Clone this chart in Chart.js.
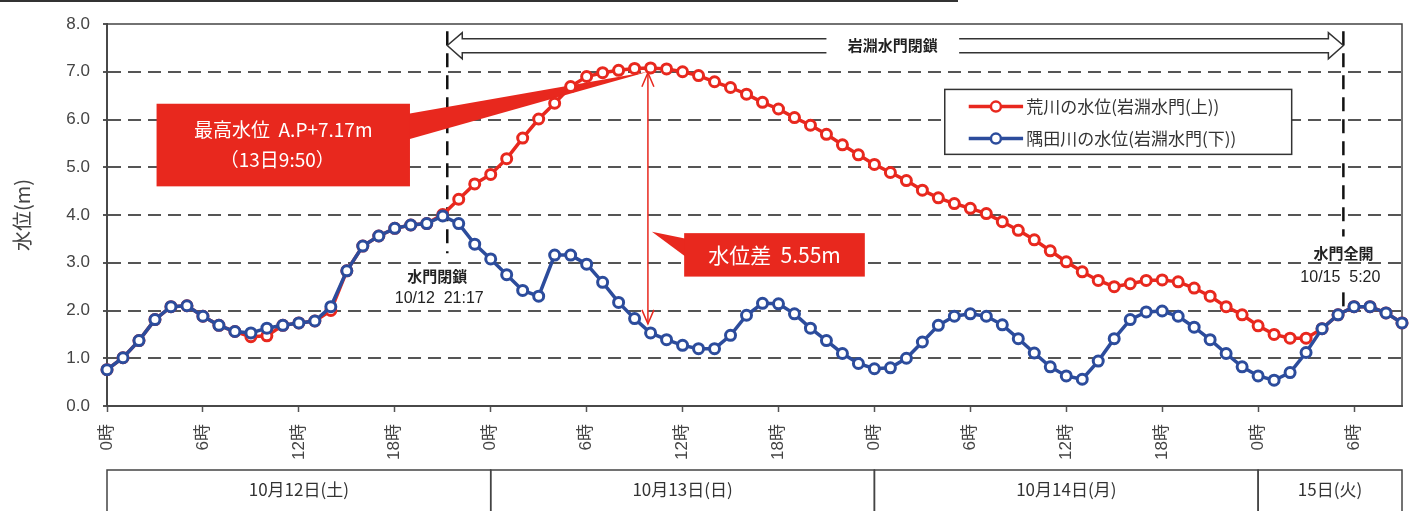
<!DOCTYPE html>
<html lang="ja">
<head>
<meta charset="UTF-8">
<title>岩淵水門 水位</title>
<script src="https://cdn.jsdelivr.net/npm/chart.js"></script>
<style>
  html, body { margin: 0; padding: 0; background: #fff; }
  #wrap { position: relative; width: 1419px; height: 511px; }
</style>
</head>
<body>
<div id="wrap"><canvas id="levelChart"></canvas></div>
<script>
// hourly categories, 10/12 0時 .. 10/15 9時
const hourLabels = Array.from({ length: 82 }, (_, h) => (h % 24) + '時');

// 荒川の水位(岩淵水門(上))
const arakawa = [
  0.76, 1.01, 1.37, 1.81, 2.08, 2.10, 1.88, 1.69, 1.56, 1.45,
  1.47, 1.69, 1.74, 1.78, 2.00, 2.83, 3.35, 3.56, 3.72, 3.79,
  3.82, 4.01, 4.33, 4.65, 4.85, 5.18, 5.61, 6.01, 6.34, 6.69,
  6.90, 6.98, 7.03, 7.07, 7.08, 7.06, 7.00, 6.92, 6.79, 6.67,
  6.53, 6.36, 6.22, 6.04, 5.88, 5.69, 5.47, 5.26, 5.06, 4.89,
  4.72, 4.52, 4.36, 4.24, 4.14, 4.03, 3.86, 3.68, 3.48, 3.25,
  3.02, 2.81, 2.63, 2.50, 2.56, 2.63, 2.64, 2.60, 2.47, 2.30,
  2.08, 1.91, 1.68, 1.50, 1.42, 1.42, 1.62, 1.91, 2.08, 2.08,
  1.95, 1.74
];

// 隅田川の水位(岩淵水門(下))
const sumida = [
  0.76, 1.01, 1.37, 1.81, 2.08, 2.10, 1.88, 1.69, 1.56, 1.53,
  1.63, 1.69, 1.74, 1.78, 2.08, 2.83, 3.35, 3.56, 3.72, 3.79,
  3.82, 3.98, 3.82, 3.39, 3.08, 2.75, 2.42, 2.30, 3.16, 3.16,
  2.97, 2.59, 2.17, 1.83, 1.53, 1.39, 1.27, 1.20, 1.20, 1.48,
  1.90, 2.15, 2.14, 1.93, 1.63, 1.37, 1.10, 0.89, 0.78, 0.80,
  1.00, 1.34, 1.69, 1.88, 1.93, 1.88, 1.70, 1.41, 1.11, 0.82,
  0.63, 0.56, 0.94, 1.41, 1.81, 1.97, 1.99, 1.88, 1.65, 1.39,
  1.10, 0.82, 0.63, 0.54, 0.70, 1.12, 1.62, 1.91, 2.08, 2.08,
  1.95, 1.74
];

const dayLabels = ['10月12日(土)', '10月13日(日)', '10月14日(月)', '15日(火)'];
const dayStarts = [0, 24, 48, 72, 81];

const gateClose = 21 + 17 / 60;   // 10/12 21:17
const gateOpen = 72 + 5 + 20 / 60; // 10/15 5:20
const peakHour = 24 + 9 + 50 / 60; // 13日9:50

const RED = '#e8281e';
const BLUE = '#2c4c9c';
const GRID = '#555';
const FONT = "'Liberation Sans', 'Noto Sans CJK JP', sans-serif";
const JP = "'Noto Sans CJK JP', sans-serif";

function strokeLine(ctx, x1, y1, x2, y2) {
    ctx.beginPath();
    ctx.moveTo(x1, y1);
    ctx.lineTo(x2, y2);
    ctx.stroke();
}

// boxes, arrows, labels drawn under the series
const annotations = {
    id: 'annotations',
    beforeDatasetsDraw(chart) {
        const { ctx, chartArea: a, scales: { x, y } } = chart;
        const px = h => x.getPixelForValue(h);
        const py = v => y.getPixelForValue(v);
        ctx.save();

        // plot frame
        ctx.strokeStyle = '#444';
        ctx.lineWidth = 1.5;
        ctx.strokeRect(a.left, a.top, a.right - a.left, a.bottom - a.top);

        // gate close / open lines
        ctx.strokeStyle = '#111';
        ctx.lineWidth = 2.5;
        ctx.setLineDash([14, 8]);
        strokeLine(ctx, px(gateClose), py(7.85), px(gateClose), py(3.2));
        strokeLine(ctx, px(gateOpen), py(7.85), px(gateOpen), py(3.55));
        strokeLine(ctx, px(gateOpen), py(2.38), px(gateOpen), py(2.0));
        ctx.setLineDash([]);

        // closed-period double arrow
        const yA = py(7.69), yB = py(7.40), yTop = py(7.82), yBot = py(7.27), yMid = py(7.55);
        const l0 = px(gateClose), r0 = px(gateOpen);
        ctx.strokeStyle = '#333';
        ctx.lineWidth = 1.5;
        ctx.beginPath();
        ctx.moveTo(px(45), yA); ctx.lineTo(l0 + 15, yA); ctx.lineTo(l0 + 15, yTop);
        ctx.lineTo(l0, yMid); ctx.lineTo(l0 + 15, yBot); ctx.lineTo(l0 + 15, yB); ctx.lineTo(px(45), yB);
        ctx.stroke();
        ctx.beginPath();
        ctx.moveTo(px(53.3), yA); ctx.lineTo(r0 - 15, yA); ctx.lineTo(r0 - 15, yTop);
        ctx.lineTo(r0, yMid); ctx.lineTo(r0 - 15, yBot); ctx.lineTo(r0 - 15, yB); ctx.lineTo(px(53.3), yB);
        ctx.stroke();
        ctx.fillStyle = '#222';
        ctx.font = 'bold 15px ' + JP;
        ctx.textAlign = 'center';
        ctx.textBaseline = 'middle';
        ctx.fillText('岩淵水門閉鎖', (px(45) + px(53.3)) / 2, yMid);

        // gate labels
        ctx.font = 'bold 15px ' + JP;
        ctx.fillText('水門閉鎖', px(gateClose) - 10, py(2.72));
        ctx.fillText('水門全開', px(gateOpen), py(3.2));
        ctx.font = '16px ' + FONT;
        ctx.fillText('10/12  21:17', px(gateClose) - 8, py(2.24));
        ctx.fillText('10/15  5:20', px(gateOpen) - 3, py(2.69));

        // peak callout
        ctx.fillStyle = RED;
        ctx.beginPath();
        ctx.moveTo(px(18.5), py(6.1));
        ctx.lineTo(px(peakHour), py(7.0));
        ctx.lineTo(px(18.5), py(5.55));
        ctx.closePath();
        ctx.fill();
        ctx.fillRect(px(3.1), py(6.33), px(18.95) - px(3.1), py(4.6) - py(6.33));
        ctx.fillStyle = '#fff';
        ctx.font = '19px ' + JP;
        ctx.fillText('最高水位  A.P+7.17m', (px(3.1) + px(18.95)) / 2, py(5.78));
        ctx.fillText('（13日9:50）', (px(3.1) + px(18.95)) / 2 - 6, py(5.15));

        // level difference arrow
        const xa = px(peakHour), ya1 = py(6.98), ya2 = py(1.72);
        ctx.strokeStyle = RED;
        ctx.lineWidth = 1.5;
        strokeLine(ctx, xa, ya1, xa, ya2);
        ctx.beginPath();
        ctx.moveTo(xa - 6, ya1 + 14); ctx.lineTo(xa, ya1); ctx.lineTo(xa + 6, ya1 + 14);
        ctx.moveTo(xa - 6, ya2 - 14); ctx.lineTo(xa, ya2); ctx.lineTo(xa + 6, ya2 - 14);
        ctx.stroke();

        // level difference callout
        ctx.fillStyle = RED;
        ctx.beginPath();
        ctx.moveTo(xa + 4, py(3.65));
        ctx.lineTo(px(36.3), py(3.5));
        ctx.lineTo(px(36.3), py(3.1));
        ctx.closePath();
        ctx.fill();
        ctx.fillRect(px(36.1), py(3.62), px(47.4) - px(36.1), py(2.71) - py(3.62));
        ctx.fillStyle = '#fff';
        ctx.font = '21px ' + JP;
        ctx.fillText('水位差  5.55m', (px(36.1) + px(47.4)) / 2, py(3.16));

        // legend
        const lx = px(52.4), lt = py(6.63), lr = px(74.1), lb = py(5.27);
        ctx.fillStyle = '#fff';
        ctx.fillRect(lx, lt, lr - lx, lb - lt);
        ctx.strokeStyle = '#333';
        ctx.lineWidth = 1.5;
        ctx.strokeRect(lx, lt, lr - lx, lb - lt);
        const entries = [
            [RED, '荒川の水位(岩淵水門(上))', py(6.27)],
            [BLUE, '隅田川の水位(岩淵水門(下))', py(5.6)]
        ];
        ctx.textAlign = 'left';
        ctx.font = '17px ' + JP;
        entries.forEach(([c, label, ey]) => {
            ctx.strokeStyle = c;
            ctx.lineWidth = 3.5;
            strokeLine(ctx, px(53.9), ey, px(57.3), ey);
            ctx.beginPath();
            ctx.arc(px(55.6), ey, 5, 0, Math.PI * 2);
            ctx.fillStyle = '#fff';
            ctx.fill();
            ctx.lineWidth = 2.5;
            ctx.stroke();
            ctx.fillStyle = '#333';
            ctx.fillText(label, px(57.5), ey);
        });
        ctx.restore();
    },
    afterDraw(chart) {
        const { ctx, chartArea: a, scales: { x } } = chart;
        ctx.save();
        // date row under the hour ticks
        const top = a.bottom + 64, bottom = top + 50;
        ctx.strokeStyle = '#444';
        ctx.lineWidth = 1.5;
        ctx.fillStyle = '#333';
        ctx.font = '17px ' + JP;
        ctx.textAlign = 'center';
        ctx.textBaseline = 'middle';
        for (let i = 0; i < dayLabels.length; i++) {
            const l = x.getPixelForValue(dayStarts[i]);
            const r = x.getPixelForValue(dayStarts[i + 1]);
            ctx.strokeRect(l, top, r - l, bottom - top);
            ctx.fillText(dayLabels[i], (l + r) / 2, top + 20);
        }
        // page rule at the very top
        ctx.strokeStyle = '#333';
        ctx.lineWidth = 2;
        strokeLine(ctx, 0, 1, 958, 1);
        ctx.restore();
    }
};

const ctx = document.getElementById('levelChart').getContext('2d');
new Chart(ctx, {
    type: 'line',
    data: {
        labels: hourLabels,
        datasets: [
            {
                label: '荒川の水位(岩淵水門(上))',
                data: arakawa,
                borderColor: RED,
                borderWidth: 3.5,
                pointBackgroundColor: '#fff',
                pointBorderColor: RED,
                pointBorderWidth: 3,
                pointRadius: 5,
                tension: 0,
                order: 2
            },
            {
                label: '隅田川の水位(岩淵水門(下))',
                data: sumida,
                borderColor: BLUE,
                borderWidth: 3.5,
                pointBackgroundColor: '#fff',
                pointBorderColor: BLUE,
                pointBorderWidth: 3,
                pointRadius: 5,
                tension: 0,
                order: 1
            }
        ]
    },
    options: {
        responsive: true,
        maintainAspectRatio: false,
        animation: false,
        devicePixelRatio: 1,
        layout: { padding: { top: 24, right: 17, left: 0, bottom: 0 } },
        plugins: {
            legend: { display: false },
            tooltip: { enabled: false }
        },
        scales: {
            x: {
                type: 'category',
                offset: false,
                afterFit: s => {
                    s.height = 105;
                    s.paddingLeft = 0;
                    s.paddingRight = 0;
                },
                grid: {
                    drawOnChartArea: false,
                    tickLength: 6,
                    tickWidth: 1.5,
                    tickColor: c => (c.index % 6 === 0 ? GRID : 'rgba(0,0,0,0)')
                },
                border: { color: GRID, width: 2 },
                ticks: {
                    autoSkip: false,
                    minRotation: 90,
                    maxRotation: 90,
                    padding: 12,
                    color: '#444',
                    font: { family: FONT, size: 17 },
                    callback: (v, i) => (i % 6 === 0 ? hourLabels[i] : '')
                }
            },
            y: {
                min: 0,
                max: 8,
                afterFit: s => { s.width = 107; },
                ticks: {
                    stepSize: 1,
                    padding: 13,
                    color: '#444',
                    font: { family: FONT, size: 17 },
                    callback: v => v.toFixed(1)
                },
                grid: {
                    color: c => (c.tick && (c.tick.value === 0 || c.tick.value === 8) ? 'rgba(0,0,0,0)' : GRID),
                    lineWidth: 2,
                    tickLength: 4,
                    tickColor: GRID,
                    tickWidth: 2
                },
                border: { color: GRID, width: 2, dash: [13, 7] },
                title: {
                    display: true,
                    text: '水位(m)',
                    color: '#444',
                    font: { family: JP, size: 20 },
                    padding: { top: 10, bottom: 0 }
                }
            }
        }
    },
    plugins: [annotations]
});
</script>
</body>
</html>
